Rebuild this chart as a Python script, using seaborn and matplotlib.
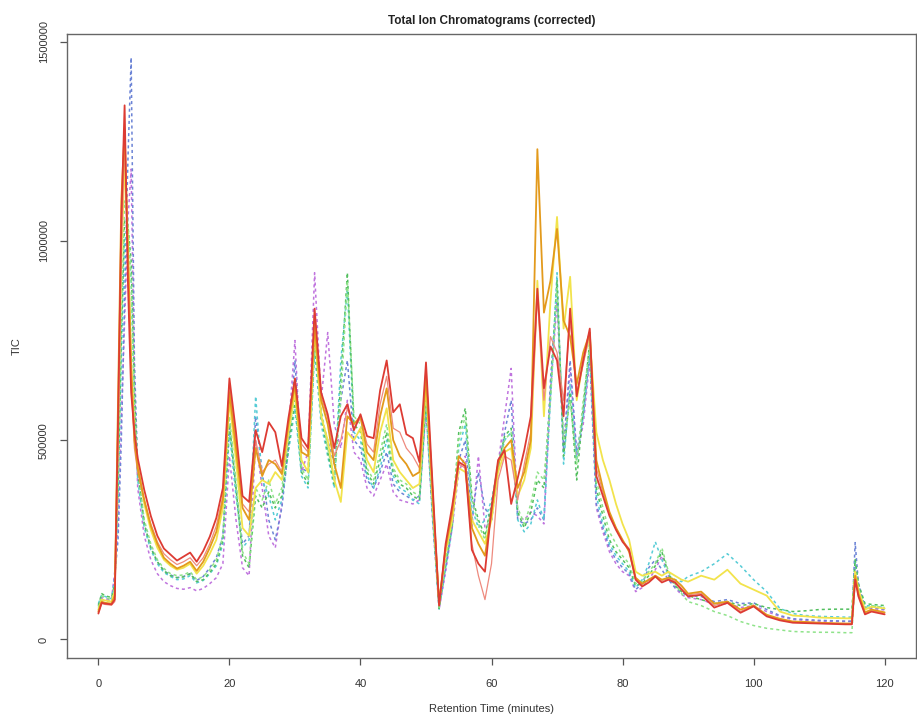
import numpy as np
import pandas as pd
import matplotlib
matplotlib.use("Agg")
import matplotlib.pyplot as plt
import seaborn as sns

# retention time grid (minutes), shared by every sample
rt = [0, 0.5, 1, 2, 2.5, 3, 3.5, 4, 4.5, 5, 5.5,
      6, 7, 8, 9, 10, 11, 12, 13, 14, 15, 16, 17, 18, 19, 20,
      21, 22, 23, 24, 25, 26, 27, 28, 29, 30, 31, 32, 33, 34, 35,
      36, 37, 38, 39, 40, 41, 42, 43, 44, 45, 46, 47, 48, 49, 50,
      51, 52, 53, 54, 55, 56, 57, 58, 59, 60, 61, 62, 63, 64, 65,
      66, 67, 68, 69, 70, 71, 72, 73, 74, 75, 76, 77, 78, 79, 80,
      81, 82, 83, 84, 85, 86, 87, 88, 89, 90,
      92, 94, 96, 98, 100, 102, 104, 106, 108, 110, 112, 114,
      115, 115.5, 116, 117, 118, 120]

# TIC per sample, in thousands
tic_red = [65, 92, 90, 88, 100, 550, 1050, 1340, 900, 620, 520,
           455, 375, 310, 260, 228, 213, 198, 208, 218, 195, 222, 258, 305, 380, 655,
           520, 360, 345, 525, 470, 545, 520, 435, 555, 655, 505, 480, 830, 620, 565,
           480, 560, 590, 525, 565, 510, 505, 625, 700, 570, 590, 515, 505, 445, 695,
           390, 85, 240, 335, 445, 435, 225, 190, 170, 330, 450, 475, 340, 405, 475,
           560, 880, 630, 735, 700, 560, 830, 610, 700, 780, 410, 360, 310, 275, 245,
           225, 150, 133, 143, 158, 143, 150, 143, 125, 108,
           112, 80, 92, 67, 83, 58, 48, 42, 41, 40, 39, 38,
           38, 150, 108, 63, 70, 63]
tic_orange = [70, 95, 92, 90, 110, 600, 1100, 1280, 980, 680, 500,
              430, 350, 285, 240, 205, 190, 178, 185, 195, 172, 195, 230, 270, 350, 620,
              480, 330, 300, 480, 410, 450, 440, 415, 540, 640, 470, 460, 790, 600, 540,
              440, 380, 560, 540, 560, 470, 450, 560, 630, 500, 460, 440, 410, 420, 660,
              370, 90, 230, 320, 460, 440, 280, 240, 210, 320, 440, 480, 500, 380, 420,
              500, 1230, 820, 900, 1030, 800, 760, 640, 720, 770, 450, 380, 320, 280, 250,
              220, 155, 140, 150, 160, 150, 155, 150, 135, 115,
              120, 90, 95, 75, 85, 62, 52, 45, 44, 42, 41, 40,
              40, 160, 115, 68, 75, 68]
tic_yellow = [75, 100, 98, 95, 120, 520, 950, 1200, 1000, 700, 520,
              440, 340, 275, 230, 200, 185, 175, 180, 190, 165, 185, 215, 250, 330, 600,
              450, 280, 260, 380, 400, 390, 420, 400, 520, 620, 450, 420, 780, 560, 500,
              400, 345, 520, 500, 530, 450, 420, 520, 580, 450, 420, 400, 380, 390, 640,
              350, 95, 220, 300, 430, 420, 300, 270, 240, 300, 420, 470, 480, 360, 400,
              480, 900, 560, 850, 1060, 780, 910, 600, 700, 760, 520, 450, 400, 340, 290,
              250, 170, 160, 165, 170, 160, 170, 160, 150, 145,
              160, 150, 175, 140, 125, 110, 70, 60, 58, 55, 54, 53,
              53, 170, 125, 75, 82, 78]
tic_salmon = [68, 90, 88, 86, 95, 480, 980, 1250, 950, 650, 480,
              420, 350, 290, 245, 215, 200, 188, 195, 205, 185, 205, 240, 285, 360, 640,
              500, 340, 320, 500, 420, 440, 450, 420, 545, 650, 490, 470, 810, 610, 555,
              460, 500, 580, 530, 555, 490, 470, 590, 660, 530, 520, 480, 460, 430, 680,
              380, 85, 235, 320, 440, 430, 240, 160, 100, 190, 400, 460, 450, 350, 440,
              520, 860, 600, 760, 720, 600, 800, 620, 690, 770, 430, 370, 315, 280, 248,
              228, 152, 138, 148, 160, 148, 152, 146, 128, 112,
              116, 85, 95, 70, 86, 60, 50, 44, 42, 41, 40, 39,
              39, 155, 110, 65, 72, 66]
tic_lightgreen = [80, 110, 105, 100, 130, 400, 800, 1100, 1050, 900, 600,
                  430, 300, 240, 200, 178, 165, 160, 162, 170, 150, 158, 175, 200, 260, 560,
                  400, 220, 190, 380, 350, 400, 340, 380, 500, 620, 430, 400, 760, 580, 480,
                  400, 600, 900, 560, 540, 430, 400, 470, 540, 430, 400, 390, 370, 360, 620,
                  330, 80, 200, 300, 500, 560, 350, 290, 250, 330, 430, 500, 520, 330, 290,
                  340, 420, 400, 600, 880, 500, 600, 440, 600, 740, 400, 330, 270, 240, 210,
                  190, 140, 145, 170, 190, 230, 170, 140, 115, 95,
                  85, 70, 60, 45, 35, 28, 24, 20, 19, 18, 18, 17,
                  17, 150, 120, 80, 85, 80]
tic_green = [85, 115, 110, 105, 140, 380, 750, 1050, 1040, 950, 620,
             420, 290, 230, 195, 172, 160, 155, 157, 165, 145, 150, 168, 190, 250, 540,
             380, 210, 180, 360, 330, 370, 330, 360, 480, 600, 420, 390, 740, 560, 470,
             390, 650, 920, 540, 520, 420, 390, 450, 520, 420, 390, 380, 360, 350, 600,
             320, 78, 190, 290, 520, 580, 360, 300, 260, 340, 440, 510, 530, 320, 280,
             320, 400, 380, 620, 900, 460, 620, 400, 580, 750, 380, 310, 250, 220, 200,
             180, 135, 140, 160, 185, 220, 165, 135, 120, 110,
             100, 90, 95, 85, 90, 80, 75, 70, 72, 75, 76, 76,
             76, 200, 140, 90, 88, 85]
tic_cyan = [90, 112, 108, 102, 150, 350, 700, 1000, 1020, 900, 580,
            400, 280, 225, 190, 168, 158, 150, 152, 160, 142, 148, 165, 185, 240, 520,
            360, 230, 250, 610, 400, 360, 300, 350, 470, 580, 410, 380, 720, 540, 460,
            380, 700, 880, 520, 500, 410, 380, 430, 500, 410, 380, 370, 350, 340, 580,
            310, 76, 180, 280, 480, 540, 330, 280, 300, 350, 430, 500, 520, 300, 270,
            290, 350, 300, 600, 920, 440, 640, 450, 560, 720, 360, 290, 240, 210, 190,
            170, 130, 150, 190, 245, 200, 160, 150, 145, 158,
            170, 190, 215, 185, 150, 120, 78, 65, 60, 58, 57, 56,
            56, 200, 130, 85, 84, 80]
tic_blue = [85, 100, 98, 95, 160, 250, 500, 850, 1200, 1460, 700,
            430, 290, 230, 195, 172, 162, 155, 158, 165, 148, 158, 180, 205, 260, 540,
            380, 240, 260, 560, 420, 300, 250, 330, 480, 700, 430, 420, 800, 560, 500,
            440, 600, 700, 500, 480, 400, 380, 420, 470, 390, 370, 360, 350, 360, 600,
            320, 80, 180, 290, 450, 500, 300, 420, 330, 300, 420, 520, 600, 300, 290,
            300, 330, 300, 650, 880, 480, 700, 470, 560, 720, 340, 280, 230, 200, 180,
            165, 125, 140, 180, 200, 175, 150, 130, 118, 110,
            108, 95, 100, 90, 92, 75, 60, 52, 50, 48, 47, 46,
            46, 243, 140, 80, 80, 76]
tic_purple = [88, 105, 102, 100, 170, 280, 550, 800, 1050, 1180, 650,
              380, 260, 200, 165, 145, 135, 128, 126, 130, 122, 128, 140, 155, 190, 460,
              300, 180, 160, 500, 380, 260, 230, 340, 520, 750, 420, 470, 920, 600, 770,
              540, 480, 600, 470, 450, 380, 360, 400, 440, 370, 350, 345, 340, 350, 580,
              300, 75, 170, 280, 420, 460, 280, 460, 280, 300, 440, 560, 680, 310, 300,
              320, 310, 290, 620, 850, 470, 680, 460, 540, 700, 330, 270, 220, 190, 170,
              160, 120, 130, 150, 175, 210, 160, 130, 112, 105,
              100, 88, 90, 80, 85, 70, 58, 50, 48, 46, 45, 45,
              45, 180, 120, 78, 78, 74]

samples = ["purple", "blue", "cyan", "green", "lightgreen",
           "yellow", "salmon", "orange", "red"]
series = {"red": tic_red, "orange": tic_orange, "yellow": tic_yellow,
          "salmon": tic_salmon, "lightgreen": tic_lightgreen,
          "green": tic_green, "cyan": tic_cyan, "blue": tic_blue,
          "purple": tic_purple}
colors = {"red": "#dd3b33", "orange": "#e39a1c", "yellow": "#f2e34c",
          "salmon": "#ee8a7e", "lightgreen": "#8fe38a", "green": "#52bf5e",
          "cyan": "#56ccd6", "blue": "#6c84d6", "purple": "#c074de"}
solid = {"red", "orange", "yellow", "salmon"}

df = pd.concat(
    [pd.DataFrame({"rt": rt, "tic": np.array(series[s]) * 1000.0, "sample": s})
     for s in samples],
    ignore_index=True,
)

sns.set_style("ticks")
plt.rcParams["font.family"] = ["Liberation Sans", "DejaVu Sans"]

fig = plt.figure(figsize=(9.17, 7.15), dpi=100)
ax = fig.add_axes([0.073, 0.080, 0.926, 0.873])

for s in samples:
    sub = df[df["sample"] == s]
    if s in solid:
        lw, ls = (1.3, "-") if s != "salmon" else (0.9, "-")
    else:
        lw, ls = 1.1, (0, (2, 2))
    sns.lineplot(data=sub, x="rt", y="tic", color=colors[s], linewidth=lw,
                 linestyle=ls, estimator=None, sort=False, ax=ax, legend=False)

ax.set_xlim(-4.8, 124.8)
ax.set_ylim(-46000, 1520000)
ax.set_xticks([0, 20, 40, 60, 80, 100, 120])
ax.set_yticks([0, 500000, 1000000, 1500000])
ax.set_yticklabels(["0", "500000", "1000000", "1500000"], rotation=90, va="center")
ax.tick_params(axis="both", direction="out", length=5, width=0.9, color="#555555",
               labelsize=8, labelcolor="#333333")
ax.tick_params(axis="x", pad=10)
ax.tick_params(axis="y", pad=8)
for sp in ax.spines.values():
    sp.set_visible(True)
    sp.set_color("#666666")
    sp.set_linewidth(1.0)

ax.set_xlabel("Retention Time (minutes)", fontsize=8, color="#333333", labelpad=11)
ax.set_ylabel("TIC", fontsize=8, color="#333333", labelpad=12)
ax.set_title("Total Ion Chromatograms (corrected)", fontsize=8.5,
             fontweight="bold", color="#222222", pad=7)

fig.savefig("out.png", dpi=100)
